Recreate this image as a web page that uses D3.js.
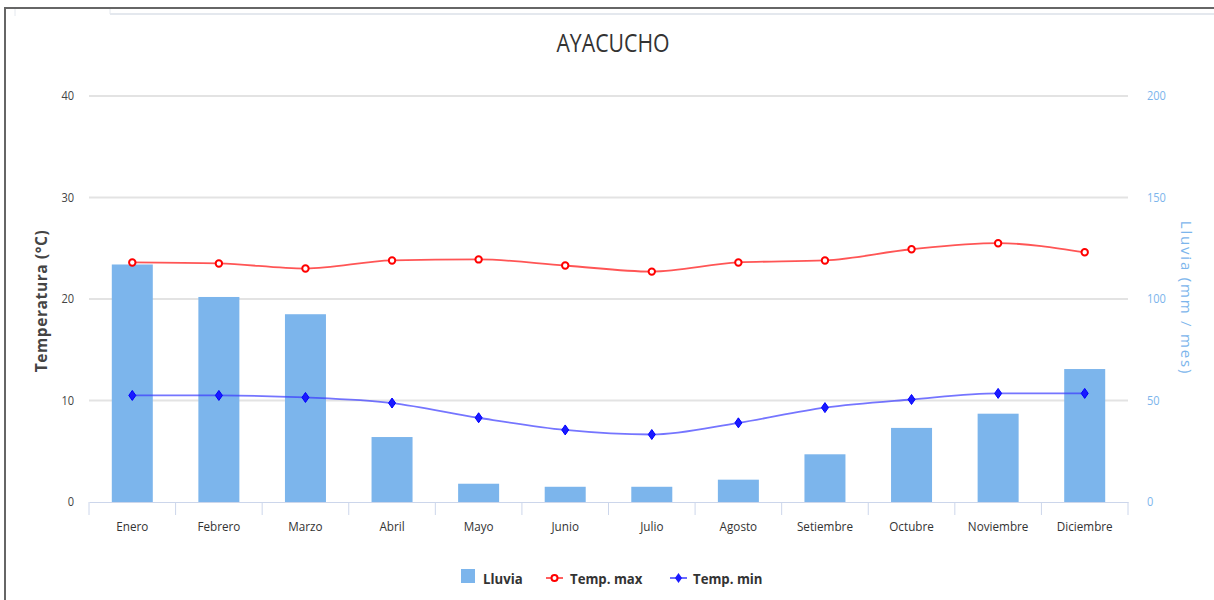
<!DOCTYPE html>
<html><head><meta charset="utf-8">
<script src="https://cdn.jsdelivr.net/npm/d3@7"></script>
<style>body{margin:0;background:#fff;} svg{display:block;} text{font-family:"Open Sans",sans-serif;}</style>
</head><body>
<svg id="c" width="1214" height="600"></svg>
<script>
const categories = ["Enero","Febrero","Marzo","Abril","Mayo","Junio","Julio","Agosto","Setiembre","Octubre","Noviembre","Diciembre"];
const lluvia = [117, 101, 92.5, 32, 9, 7.5, 7.5, 11, 23.5, 36.5, 43.5, 65.5];
const tempMax = [23.6, 23.5, 23.0, 23.8, 23.9, 23.3, 22.7, 23.6, 23.8, 24.9, 25.5, 24.6];
const tempMin = [10.5, 10.5, 10.3, 9.75, 8.3, 7.1, 6.65, 7.8, 9.3, 10.1, 10.7, 10.7];
const leftTicks = [0, 10, 20, 30, 40];
const rightTicks = [0, 50, 100, 150, 200];

const svg = d3.select("#c");
const SX = 0.85;
function txt(g, x, y, s, opts) {
  const t = g.append("text").attr("transform", `translate(${x},${y}) scale(${opts.sx||SX},1)` + (opts.rot?` rotate(${opts.rot})`:""))
    .attr("text-anchor", opts.anchor || "middle").attr("font-size", opts.size || 13)
    .attr("fill", opts.fill || "#333").text(s);
  if (opts.weight) t.attr("font-weight", opts.weight);
  if (opts.ls) t.attr("letter-spacing", opts.ls);
  return t;
}

// frame
svg.append("line").attr("x1",5).attr("x2",1214).attr("y1",8).attr("y2",8).attr("stroke","#666").attr("stroke-width",2);
svg.append("line").attr("x1",5).attr("x2",5).attr("y1",7).attr("y2",600).attr("stroke","#666").attr("stroke-width",2);
svg.append("line").attr("x1",110).attr("x2",1214).attr("y1",14).attr("y2",14).attr("stroke","#e4e8ee").attr("stroke-width",2);
svg.append("line").attr("x1",110).attr("x2",110).attr("y1",9).attr("y2",14).attr("stroke","#e4e8ee").attr("stroke-width",1);
svg.append("line").attr("x1",15).attr("x2",15).attr("y1",9).attr("y2",16).attr("stroke","#e4e8ee").attr("stroke-width",1);

const L = 89, R = 1128, T = 96, B = 502;
const x = d3.scaleBand().domain(categories).range([L, R]).paddingInner(0).paddingOuter(0);
const yL = d3.scaleLinear().domain([0, 40]).range([B, T]);
const yR = d3.scaleLinear().domain([0, 200]).range([B, T]);

// grid
svg.append("g").selectAll("line").data(leftTicks.slice(1)).join("line")
  .attr("x1", L).attr("x2", R).attr("y1", d => yL(d)).attr("y2", d => yL(d))
  .attr("stroke", "#e3e3e3").attr("stroke-width", 2);

// title
txt(svg, 613, 52, "AYACUCHO", {size: 25, fill: "#333"});

// left axis labels
const gl = svg.append("g");
leftTicks.forEach(t => txt(gl, 74, yL(t) + 4, String(t), {anchor: "end", size: 13, fill: "#444"}));
txt(gl, 47, 301, "Temperatura (°C)", {size: 15.5, fill: "#444", weight: "bold", rot: -90, sx: 1, ls: 0.6});
// right axis labels
const gr = svg.append("g");
rightTicks.forEach(t => txt(gr, 1147, yR(t) + 4, String(t), {anchor: "start", size: 13, fill: "#7cb5ec"}));
txt(gr, 1181, 298, "Lluvia (mm / mes)", {size: 15, fill: "#7cb5ec", rot: 90, sx: 1, ls: 1.8});

// bars
const bw = 41;
svg.append("g").selectAll("rect").data(lluvia).join("rect")
  .attr("x", (d, i) => x(categories[i]) + x.bandwidth() / 2 - bw / 2)
  .attr("width", bw)
  .attr("y", d => yR(d)).attr("height", d => B - yR(d))
  .attr("fill", "#7cb5ec");

// x axis
const xa = svg.append("g").attr("transform", `translate(0,${B})`).call(d3.axisBottom(x).tickSize(0).tickFormat(""));
xa.select(".domain").attr("stroke", "#ccd6eb");
svg.append("g").selectAll("line").data(d3.range(categories.length + 1)).join("line")
  .attr("x1", i => L + i * x.step()).attr("x2", i => L + i * x.step())
  .attr("y1", B).attr("y2", B + 13).attr("stroke", "#ccd6eb");
const gx = svg.append("g");
categories.forEach(c => txt(gx, x(c) + x.bandwidth() / 2, 531, c, {size: 13, fill: "#333", sx: 0.9}));

// lines
const cx = (d, i) => x(categories[i]) + x.bandwidth() / 2;
const lineMax = d3.line().x(cx).y(d => yL(d)).curve(d3.curveMonotoneX);
svg.append("path").datum(tempMax).attr("d", lineMax).attr("fill", "none").attr("stroke", "#ff2a2a").attr("stroke-width", 1.8).attr("opacity", 0.8);
svg.append("g").selectAll("circle").data(tempMax).join("circle")
  .attr("cx", cx).attr("cy", d => yL(d)).attr("r", 3.2)
  .attr("fill", "#fff").attr("stroke", "#ff0000").attr("stroke-width", 2);

svg.append("path").datum(tempMin).attr("d", lineMax.y(d => yL(d))).attr("fill", "none").attr("stroke", "#3a3aff").attr("stroke-width", 1.8).attr("opacity", 0.7);
const diamond = "M0,-5L3.5,0L0,5L-3.5,0Z";
svg.append("g").selectAll("path").data(tempMin).join("path")
  .attr("transform", (d, i) => `translate(${cx(d, i)},${yL(d)})`).attr("d", diamond)
  .attr("fill", "#1a1aff").attr("stroke", "#0000ff").attr("stroke-width", 1);

// legend
const lg = svg.append("g");
lg.append("rect").attr("x", 461).attr("y", 569).attr("width", 14).attr("height", 14).attr("fill", "#7cb5ec");
txt(lg, 483, 584, "Lluvia", {anchor: "start", size: 15, fill: "#333", weight: "bold", sx: 0.88});
lg.append("line").attr("x1", 546).attr("x2", 563).attr("y1", 578).attr("y2", 578).attr("stroke", "#ff2a2a").attr("stroke-width", 1.5);
lg.append("circle").attr("cx", 554.5).attr("cy", 578).attr("r", 3).attr("fill", "#fff").attr("stroke", "#f00").attr("stroke-width", 2);
txt(lg, 570, 584, "Temp. max", {anchor: "start", size: 15, fill: "#333", weight: "bold", sx: 0.88});
lg.append("line").attr("x1", 670).attr("x2", 687).attr("y1", 578).attr("y2", 578).attr("stroke", "#3a3aff").attr("stroke-width", 1.5);
lg.append("path").attr("transform", "translate(678.5,578)").attr("d", diamond).attr("fill", "#1a1aff");
txt(lg, 693, 584, "Temp. min", {anchor: "start", size: 15, fill: "#333", weight: "bold", sx: 0.88});
</script>
</body></html>
